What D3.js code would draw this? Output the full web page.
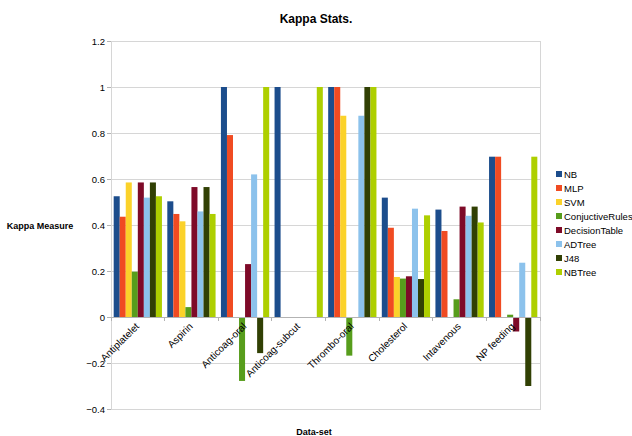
<!DOCTYPE html>
<html>
<head>
<meta charset="utf-8">
<script src="https://cdn.jsdelivr.net/npm/d3@7"></script>
<style>
  html, body { margin: 0; padding: 0; background: #fff; }
  svg { display: block; font-family: "Liberation Sans", Arial, sans-serif; }
</style>
</head>
<body>
<svg id="chart" width="632" height="436"></svg>
<script>
// Data-set categories and tick labels
const categories = ["Antiplatelet", "Aspirin", "Anticoag-oral", "Anticoag-subcut",
                    "Thrombo-oral", "Cholesterol", "Intavenous", "NP feeding"];
const seriesNames = ["NB", "MLP", "SVM", "ConjuctiveRules", "DecisionTable", "ADTree", "J48", "NBTree"];
const yTicks = [-0.4, -0.2, 0, 0.2, 0.4, 0.6, 0.8, 1, 1.2];

// Kappa values per classifier, one entry per data-set
const nb            = [0.525, 0.503, 1.0,    1.0, 1.0,    0.519, 0.467, 0.697];
const mlp           = [0.436, 0.448, 0.791,  0,   1.0,    0.388, 0.374, 0.697];
const svm           = [0.585, 0.416, 0,      0,   0.875,  0.174, 0,     0];
const conjRules     = [0.197, 0.043, -0.278, 0,   -0.168, 0.167, 0.077, 0.010];
const decisionTable = [0.585, 0.565, 0.230,  0,   0,      0.177, 0.480, -0.063];
const adTree        = [0.519, 0.459, 0.620,  0,   0.875,  0.471, 0.440, 0.236];
const j48           = [0.585, 0.565, -0.157, 0,   1.0,    0.165, 0.480, -0.300];
const nbTree        = [0.525, 0.448, 1.0,    1.0, 1.0,    0.442, 0.411, 0.697];

const seriesValues = [nb, mlp, svm, conjRules, decisionTable, adTree, j48, nbTree];
const colors = ["#1c4d8c", "#f04b22", "#fbd22a", "#579d1c", "#7e0a28", "#8cc2ec", "#314004", "#aecf00"];

const svg = d3.select("#chart");
const plot = { left: 111, right: 540, top: 41, bottom: 409 };

const y = d3.scaleLinear().domain([-0.4, 1.2]).range([plot.bottom, plot.top]);
const x0 = d3.scaleBand().domain(categories).range([plot.left, plot.right])
  .paddingInner(0.1).paddingOuter(0.05);
const x1 = d3.scaleBand().domain(seriesNames).range([0, x0.bandwidth()]);
const color = d3.scaleOrdinal().domain(seriesNames).range(colors);

// Title
svg.append("text").attr("x", 316).attr("y", 23).attr("text-anchor", "middle")
  .attr("font-size", 12).attr("font-weight", "bold").attr("fill", "#000").text("Kappa Stats.");

// Horizontal gridlines
svg.append("g").selectAll("line").data(yTicks).join("line")
  .attr("x1", plot.left).attr("x2", plot.right)
  .attr("y1", d => y(d)).attr("y2", d => y(d))
  .attr("stroke", "#d6d6d6").attr("stroke-width", 1).attr("shape-rendering", "crispEdges");

// Plot frame
svg.append("rect").attr("x", plot.left).attr("y", plot.top)
  .attr("width", plot.right - plot.left).attr("height", plot.bottom - plot.top)
  .attr("fill", "none").attr("stroke", "#d6d6d6").attr("shape-rendering", "crispEdges");

// Y axis
const yAxis = svg.append("g").attr("transform", `translate(${plot.left},0)`)
  .call(d3.axisLeft(y).tickValues(yTicks).tickSize(4).tickPadding(2)
    .tickFormat(d => d3.format("")(+d.toFixed(1))));
yAxis.select(".domain").attr("stroke", "#d6d6d6");
yAxis.selectAll(".tick line").attr("stroke", "#b3b3b3");
yAxis.selectAll(".tick text").attr("font-size", 9.5).attr("fill", "#000")
  .attr("font-family", "Liberation Sans, Arial, sans-serif");

// Bars
const groups = svg.append("g").selectAll("g").data(categories).join("g")
  .attr("transform", d => `translate(${x0(d)},0)`);
groups.selectAll("rect")
  .data((c, ci) => seriesNames.map((s, si) => ({ s, v: seriesValues[si][ci] })))
  .join("rect")
  .attr("x", d => x1(d.s))
  .attr("width", x1.bandwidth())
  .attr("y", d => y(Math.max(0, d.v)))
  .attr("height", d => Math.abs(y(d.v) - y(0)))
  .attr("fill", d => color(d.s));

// Category axis on the zero line, ticks at group boundaries
const zeroY = y(0);
svg.append("line").attr("x1", plot.left).attr("x2", plot.right)
  .attr("y1", zeroY).attr("y2", zeroY).attr("stroke", "#b3b3b3")
  .attr("shape-rendering", "crispEdges");
const step = x0.step();
svg.append("g").selectAll("line").data(d3.range(categories.length + 1)).join("line")
  .attr("x1", i => plot.left + i * step).attr("x2", i => plot.left + i * step)
  .attr("y1", zeroY).attr("y2", zeroY + 4)
  .attr("stroke", "#b3b3b3").attr("shape-rendering", "crispEdges");

// Rotated category labels
svg.append("g").selectAll("text").data(categories).join("text")
  .attr("transform", d => `translate(${x0(d) + x0.bandwidth() / 2 + 2},${zeroY + 10}) rotate(-45)`)
  .attr("text-anchor", "end").attr("font-size", 10).attr("fill", "#000")
  .text(d => d);

// Axis titles
svg.append("text").attr("x", 40).attr("y", 229).attr("text-anchor", "middle")
  .attr("font-size", 9).attr("font-weight", "bold").text("Kappa Measure");
svg.append("text").attr("x", 314).attr("y", 435).attr("text-anchor", "middle")
  .attr("font-size", 9).attr("font-weight", "bold").text("Data-set");

// Legend
const legend = svg.append("g").selectAll("g").data(seriesNames).join("g")
  .attr("transform", (d, i) => `translate(556,${174 + i * 14})`);
legend.append("rect").attr("x", 0).attr("y", -3).attr("width", 6).attr("height", 6)
  .attr("fill", d => color(d));
legend.append("text").attr("x", 8).attr("y", 3.5).attr("font-size", 9.5).attr("fill", "#000")
  .text(d => d);
</script>
</body>
</html>
